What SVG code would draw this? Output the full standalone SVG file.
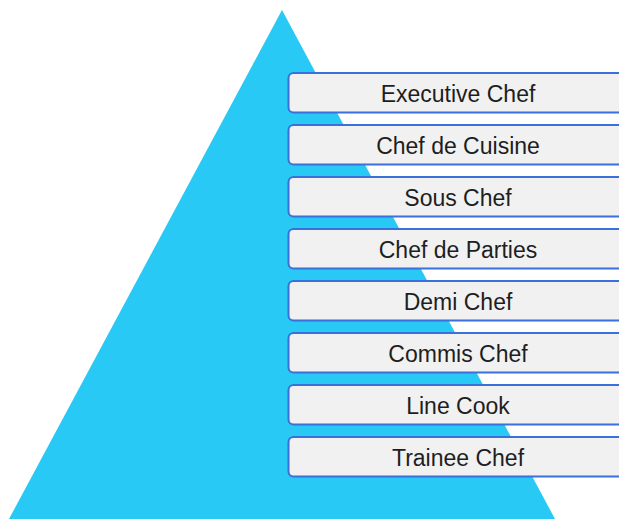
<svg xmlns="http://www.w3.org/2000/svg" width="619" height="519" viewBox="0 0 619 519">
<style>
.box{fill:#f1f1f1;stroke:#3b6fd9;stroke-width:2}
.lbl{font-family:"Liberation Sans",Arial,sans-serif;font-size:23px;fill:#1e1e1e;text-anchor:middle}
</style>
<rect width="619" height="519" fill="#ffffff"/>
<polygon id="pyramid" points="282,10 555,519 9,519" fill="#28c9f5"/>
<g id="connectors"/>
<g id="n1"><rect class="box" x="288.5" y="73" width="345" height="39.5" rx="5"/><text class="lbl" x="458" y="102">Executive Chef</text></g>
<g id="n2"><rect class="box" x="288.5" y="125" width="345" height="39.5" rx="5"/><text class="lbl" x="458" y="154">Chef de Cuisine</text></g>
<g id="n3"><rect class="box" x="288.5" y="177" width="345" height="39.5" rx="5"/><text class="lbl" x="458" y="206">Sous Chef</text></g>
<g id="n4"><rect class="box" x="288.5" y="229" width="345" height="39.5" rx="5"/><text class="lbl" x="458" y="258">Chef de Parties</text></g>
<g id="n5"><rect class="box" x="288.5" y="281" width="345" height="39.5" rx="5"/><text class="lbl" x="458" y="310">Demi Chef</text></g>
<g id="n6"><rect class="box" x="288.5" y="333" width="345" height="39.5" rx="5"/><text class="lbl" x="458" y="362">Commis Chef</text></g>
<g id="n7"><rect class="box" x="288.5" y="385" width="345" height="39.5" rx="5"/><text class="lbl" x="458" y="414">Line Cook</text></g>
<g id="n8"><rect class="box" x="288.5" y="437" width="345" height="39.5" rx="5"/><text class="lbl" x="458" y="466">Trainee Chef</text></g>
</svg>
